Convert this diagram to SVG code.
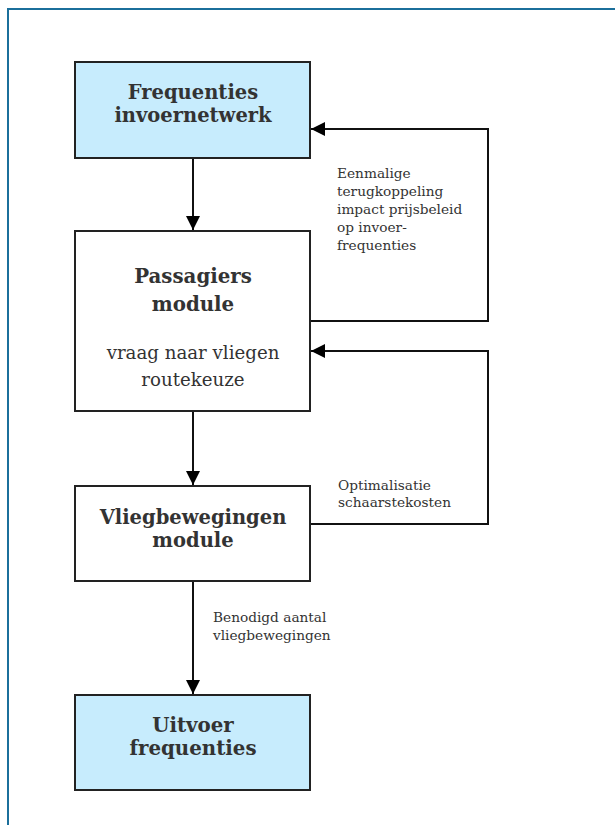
<svg xmlns="http://www.w3.org/2000/svg" width="615" height="825" viewBox="0 0 615 825">
  <style>
    .box { stroke: #222; stroke-width: 2; }
    .input { fill: #c7ecfd; }
    .plain { fill: #fff; }
    .title { font-family: "DejaVu Serif", "Liberation Serif", serif; font-weight: bold; fill: #333; text-anchor: middle; }
    .body { font-family: "DejaVu Serif", "Liberation Serif", serif; fill: #333; text-anchor: middle; }
    .note { font-family: "DejaVu Serif", "Liberation Serif", serif; font-size: 13.7px; fill: #333; }
    .link { fill: none; stroke: #111; stroke-width: 2; }
  </style>
  <defs>
    <marker id="head" viewBox="0 0 10 10" refX="10" refY="5" markerWidth="14" markerHeight="14" markerUnits="userSpaceOnUse" orient="auto">
      <path d="M0,0 L10,5 L0,10 Z" fill="#000"/>
    </marker>
  </defs>

  <rect width="615" height="825" fill="#fff"/>
  <!-- outer frame -->
  <rect x="8" y="9" width="620" height="830" fill="none" stroke="#1b6f9b" stroke-width="2"/>

  <g id="connectors">
    <line class="link" x1="193" y1="158" x2="193" y2="230" marker-end="url(#head)"/>
    <line class="link" x1="193" y1="411" x2="193" y2="485" marker-end="url(#head)"/>
    <line class="link" x1="193" y1="581" x2="193" y2="694" marker-end="url(#head)"/>
    <polyline class="link" points="310,321 488,321 488,129 311,129" marker-end="url(#head)"/>
    <polyline class="link" points="310,524 488,524 488,351 311,351" marker-end="url(#head)"/>
    <text class="note" x="337" y="178">Eenmalige</text>
    <text class="note" x="337" y="196">terugkoppeling</text>
    <text class="note" x="337" y="214">impact prijsbeleid</text>
    <text class="note" x="337" y="232">op invoer-</text>
    <text class="note" x="337" y="250">frequenties</text>
    <text class="note" x="338" y="490">Optimalisatie</text>
    <text class="note" x="338" y="507">schaarstekosten</text>
    <text class="note" x="213" y="622">Benodigd aantal</text>
    <text class="note" x="213" y="640">vliegbewegingen</text>
  </g>

  <g id="frequenties-invoernetwerk">
    <rect class="box input" x="75" y="62" width="235" height="96"/>
    <text class="title" x="193" y="99" font-size="19.5">Frequenties</text>
    <text class="title" x="193" y="122" font-size="19.5">invoernetwerk</text>
  </g>

  <g id="passagiers-module">
    <rect class="box plain" x="75" y="231" width="235" height="180"/>
    <text class="title" x="193" y="283" font-size="19.8">Passagiers</text>
    <text class="title" x="193" y="311" font-size="19.8">module</text>
    <text class="body" x="193" y="359" font-size="18.2">vraag naar vliegen</text>
    <text class="body" x="193" y="386" font-size="18.2">routekeuze</text>
  </g>

  <g id="vliegbewegingen-module">
    <rect class="box plain" x="75" y="486" width="235" height="95"/>
    <text class="title" x="193" y="524" font-size="19.5">Vliegbewegingen</text>
    <text class="title" x="193" y="547" font-size="19.5">module</text>
  </g>

  <g id="uitvoer-frequenties">
    <rect class="box input" x="75" y="695" width="235" height="95"/>
    <text class="title" x="193" y="732" font-size="19.8">Uitvoer</text>
    <text class="title" x="193" y="755" font-size="19.8">frequenties</text>
  </g>
</svg>
